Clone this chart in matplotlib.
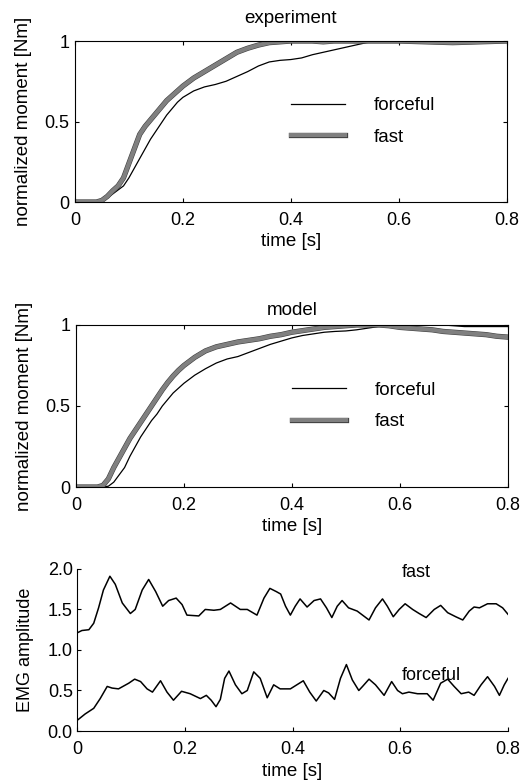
import matplotlib
matplotlib.use("Agg")
import matplotlib.pyplot as plt
import matplotlib.patheffects as pe

plt.rcParams['font.family'] = ['Liberation Sans', 'DejaVu Sans']

# experiment (normalized moment)
t_exp = [0, 0.04, 0.05, 0.06, 0.07, 0.08, 0.09, 0.10, 0.11, 0.12, 0.13, 0.14, 0.15,
         0.16, 0.17, 0.18, 0.19, 0.20, 0.22, 0.24, 0.26, 0.28, 0.30, 0.32, 0.34, 0.36,
         0.38, 0.40, 0.42, 0.44, 0.46, 0.48, 0.50, 0.52, 0.54, 0.56, 0.60, 0.70, 0.80]
forceful_exp = [0, 0, 0.005, 0.025, 0.05, 0.075, 0.10, 0.15, 0.21, 0.27, 0.33, 0.39, 0.44,
                0.49, 0.54, 0.58, 0.62, 0.65, 0.69, 0.715, 0.73, 0.75, 0.78, 0.81, 0.845, 0.87,
                0.88, 0.885, 0.895, 0.915, 0.93, 0.945, 0.96, 0.975, 0.99, 1.0, 1.0, 1.0, 1.0]
fast_exp = [0, 0, 0.01, 0.035, 0.07, 0.10, 0.15, 0.24, 0.33, 0.42, 0.47, 0.51, 0.55,
            0.59, 0.63, 0.66, 0.69, 0.72, 0.77, 0.81, 0.85, 0.89, 0.93, 0.955, 0.975, 0.99,
            0.995, 1.0, 1.0, 1.0, 0.995, 1.0, 1.0, 1.0, 1.0, 1.0, 1.0, 0.99, 1.0]

# model (normalized moment)
t_mod = [0, 0.04, 0.05, 0.06, 0.07, 0.08, 0.09, 0.10, 0.11, 0.12, 0.13, 0.14, 0.15,
         0.16, 0.17, 0.18, 0.19, 0.20, 0.22, 0.24, 0.26, 0.28, 0.30, 0.32, 0.34, 0.36,
         0.38, 0.40, 0.42, 0.44, 0.46, 0.48, 0.50, 0.52, 0.54, 0.56, 0.58, 0.60, 0.62,
         0.64, 0.66, 0.68, 0.70, 0.72, 0.74, 0.76, 0.78, 0.80]
forceful_mod = [0, 0, 0, 0.005, 0.03, 0.075, 0.12, 0.19, 0.25, 0.31, 0.36, 0.41, 0.45,
                0.50, 0.54, 0.58, 0.61, 0.64, 0.69, 0.73, 0.765, 0.79, 0.805, 0.83, 0.855, 0.88,
                0.90, 0.92, 0.935, 0.945, 0.955, 0.96, 0.963, 0.97, 0.98, 0.99, 1.0, 1.0, 1.0,
                1.0, 1.0, 1.0, 0.995, 0.99, 0.99, 0.99, 0.99, 0.99]
fast_mod = [0, 0, 0.01, 0.05, 0.12, 0.18, 0.24, 0.30, 0.35, 0.40, 0.45, 0.50, 0.55,
            0.60, 0.645, 0.685, 0.72, 0.75, 0.80, 0.84, 0.865, 0.88, 0.895, 0.905, 0.915, 0.93,
            0.94, 0.955, 0.965, 0.975, 0.985, 0.99, 0.995, 1.0, 1.0, 1.0, 0.995, 0.985, 0.98,
            0.975, 0.97, 0.96, 0.955, 0.95, 0.945, 0.94, 0.93, 0.925]

# EMG amplitude, fast movement
t_emg_fast = [0, 0.009, 0.022, 0.031, 0.040, 0.049, 0.061, 0.071, 0.084, 0.099, 0.108,
              0.121, 0.133, 0.146, 0.159, 0.170, 0.184, 0.195, 0.204, 0.226, 0.238, 0.254,
              0.266, 0.285, 0.303, 0.316, 0.334, 0.347, 0.358, 0.370, 0.378, 0.387, 0.396,
              0.405, 0.414, 0.427, 0.440, 0.452, 0.463, 0.473, 0.483, 0.492, 0.504, 0.520,
              0.530, 0.542, 0.554, 0.567, 0.576, 0.587, 0.598, 0.609, 0.623, 0.635, 0.648,
              0.663, 0.675, 0.688, 0.703, 0.716, 0.728, 0.737, 0.747, 0.762, 0.778, 0.790, 0.8]
emg_fast = [1.21, 1.24, 1.25, 1.33, 1.52, 1.74, 1.91, 1.81, 1.58, 1.45, 1.50,
            1.74, 1.87, 1.72, 1.54, 1.61, 1.64, 1.56, 1.43, 1.42, 1.50, 1.49,
            1.50, 1.58, 1.50, 1.50, 1.43, 1.64, 1.76, 1.72, 1.69, 1.54, 1.43,
            1.54, 1.63, 1.53, 1.61, 1.63, 1.52, 1.40, 1.54, 1.61, 1.52, 1.48,
            1.43, 1.37, 1.52, 1.63, 1.54, 1.41, 1.50, 1.57, 1.50, 1.45, 1.40,
            1.50, 1.55, 1.46, 1.41, 1.37, 1.48, 1.53, 1.52, 1.57, 1.57, 1.52, 1.44]

# EMG amplitude, forceful movement
t_emg_forc = [0, 0.015, 0.031, 0.043, 0.056, 0.065, 0.077, 0.096, 0.107, 0.118, 0.130,
              0.140, 0.155, 0.167, 0.179, 0.194, 0.210, 0.229, 0.240, 0.249, 0.258, 0.266,
              0.274, 0.282, 0.294, 0.306, 0.316, 0.328, 0.340, 0.353, 0.365, 0.377, 0.396,
              0.420, 0.432, 0.444, 0.458, 0.467, 0.478, 0.489, 0.500, 0.511, 0.523, 0.530,
              0.542, 0.554, 0.570, 0.584, 0.595, 0.604, 0.616, 0.632, 0.650, 0.661, 0.675,
              0.688, 0.700, 0.713, 0.727, 0.737, 0.750, 0.762, 0.775, 0.784, 0.793, 0.8]
emg_forc = [0.13, 0.21, 0.28, 0.40, 0.55, 0.53, 0.52, 0.59, 0.64, 0.61, 0.52,
            0.48, 0.62, 0.48, 0.38, 0.49, 0.46, 0.40, 0.44, 0.38, 0.30, 0.39,
            0.65, 0.74, 0.57, 0.46, 0.50, 0.73, 0.65, 0.41, 0.57, 0.52, 0.52,
            0.62, 0.48, 0.37, 0.50, 0.47, 0.39, 0.65, 0.82, 0.63, 0.50, 0.55,
            0.64, 0.57, 0.44, 0.61, 0.50, 0.46, 0.48, 0.46, 0.46, 0.38, 0.59,
            0.64, 0.55, 0.46, 0.48, 0.44, 0.57, 0.67, 0.55, 0.44, 0.57, 0.65]

fig = plt.figure(figsize=(5.24, 7.83), dpi=100)

fast_style = dict(color='0.5', lw=3.0, solid_joinstyle='round',
                  path_effects=[pe.Stroke(linewidth=3.8, foreground='0.25'), pe.Normal()])


def moment_axes(rect, t, forc, fast, title, tpad):
    ax = fig.add_axes(rect)
    ax.plot(t, forc, color='black', lw=0.9, label='forceful')
    ax.plot(t, fast, label='fast', **fast_style)
    ax.set_xlim(0, 0.8)
    ax.set_ylim(0, 1)
    ax.set_xticks([0, 0.2, 0.4, 0.6, 0.8])
    ax.set_xticklabels(['0', '0.2', '0.4', '0.6', '0.8'])
    ax.set_yticks([0, 0.5, 1])
    ax.set_yticklabels(['0', '0.5', '1'])
    ax.tick_params(direction='in', top=True, right=True, labelsize=13, length=3)
    ax.tick_params(axis='x', pad=7)
    ax.tick_params(axis='y', pad=4)
    ax.set_xlabel('time [s]', fontsize=13.5, labelpad=3)
    ax.set_ylabel('normalized moment [Nm]', fontsize=13.5, labelpad=9)
    ax.set_title(title, fontsize=13.5, pad=tpad)
    ax.legend(loc='center left', bbox_to_anchor=(0.5, 0.5), frameon=False,
              borderpad=0, borderaxespad=0,
              fontsize=13.5, handlelength=2.9, handletextpad=1.5, labelspacing=0.75)
    return ax


moment_axes([0.143, 0.742, 0.824, 0.2056], t_exp, forceful_exp, fast_exp, 'experiment', 13)
moment_axes([0.145, 0.378, 0.824, 0.207], t_mod, forceful_mod, fast_mod, 'model', 7)

ax3 = fig.add_axes([0.147, 0.0664, 0.8225, 0.207])
ax3.plot(t_emg_fast, emg_fast, color='black', lw=1.1)
ax3.plot(t_emg_forc, emg_forc, color='black', lw=1.1)
ax3.text(0.603, 1.95, 'fast', fontsize=13, va='center')
ax3.text(0.603, 0.69, 'forceful', fontsize=13, va='center')
ax3.set_xlim(0, 0.8)
ax3.set_ylim(0, 2.0)
ax3.set_xticks([0, 0.2, 0.4, 0.6, 0.8])
ax3.set_xticklabels(['0', '0.2', '0.4', '0.6', '0.8'])
ax3.set_yticks([0, 0.5, 1.0, 1.5, 2.0])
ax3.set_yticklabels(['0.0', '0.5', '1.0', '1.5', '2.0'])
ax3.spines['top'].set_visible(False)
ax3.spines['right'].set_visible(False)
ax3.tick_params(direction='in', labelsize=13, length=3)
ax3.tick_params(axis='x', pad=7)
ax3.tick_params(axis='y', pad=3)
ax3.set_xlabel('time [s]', fontsize=13.5, labelpad=4)
ax3.set_ylabel('EMG amplitude', fontsize=13, labelpad=10)

fig.savefig('out.png', dpi=100)
